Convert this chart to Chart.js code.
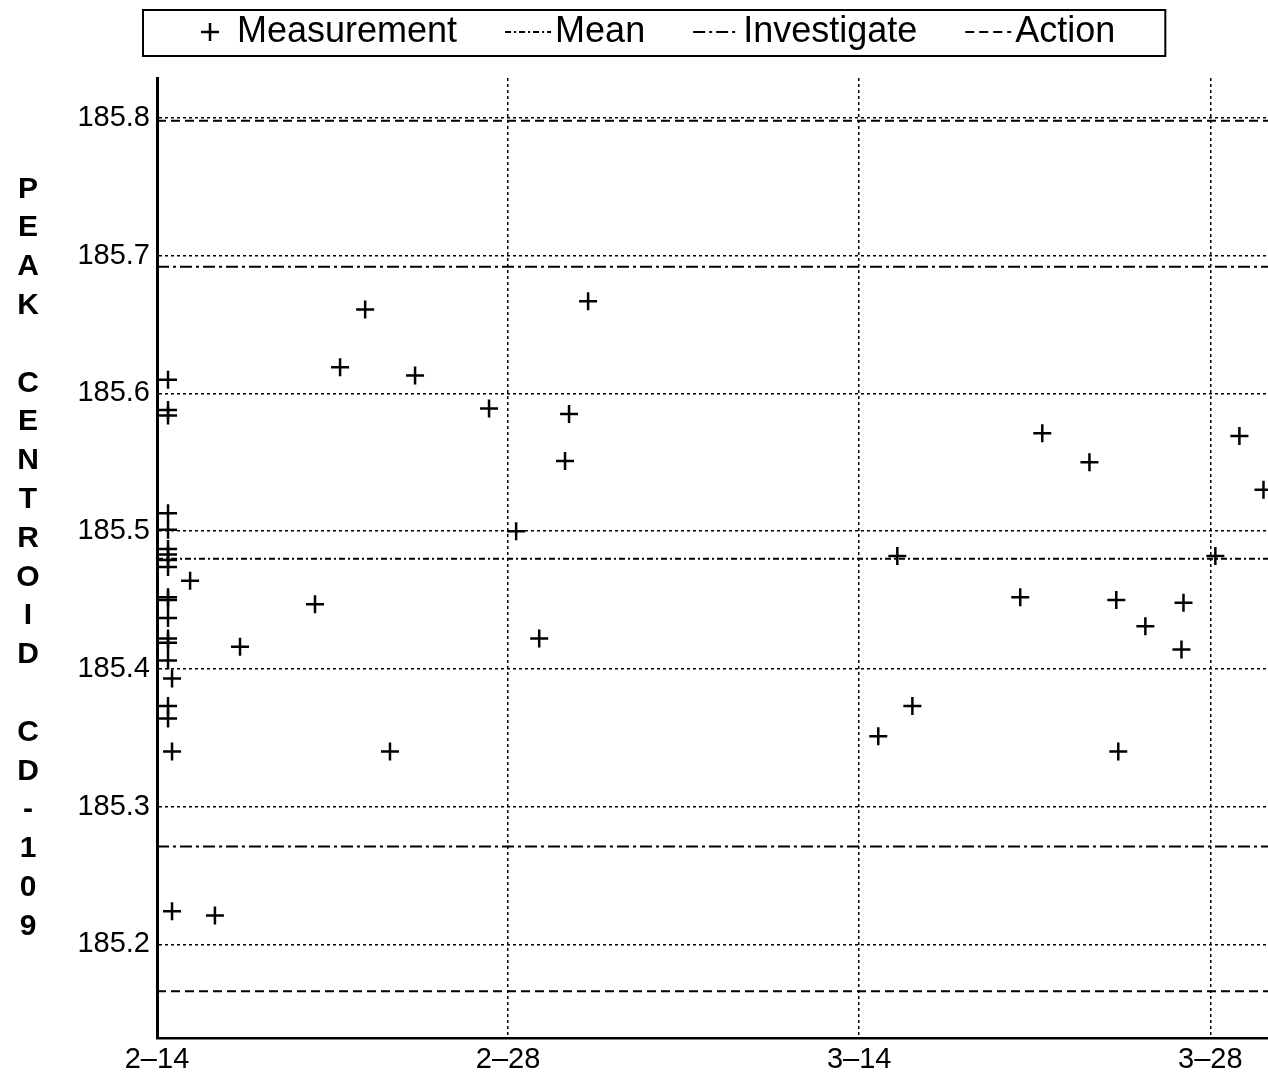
<!DOCTYPE html>
<html>
<head>
<meta charset="utf-8">
<script src="https://cdn.jsdelivr.net/npm/chart.js@4.4.0/dist/chart.umd.min.js"></script>
<style>
    html, body { margin: 0; padding: 0; background: #fff; }
    #wrap { width: 1268px; height: 1076px; }
</style>
</head>
<body>
<div id="wrap"><canvas id="grafico"></canvas></div>
<script>
// days counted from 2-14 (day 0)
const days = [
    0.44, 0.44, 0.44, 0.44, 0.44, 0.44, 0.44, 0.44, 0.44, 1.32,
    0.44, 0.44, 0.44, 0.44, 0.44, 0.44, 0.60, 0.44, 0.44, 0.60,
    0.60, 2.31, 3.31, 6.30, 7.30, 8.30, 9.29, 10.29, 13.24, 14.32,
    15.24, 16.27, 16.43, 17.19, 28.76, 29.52, 30.12, 34.42, 35.30, 37.18,
    38.25, 38.33, 39.41, 40.93, 40.85, 42.20, 43.16, 44.12
];
const peakCentroid = [
    185.610, 185.588, 185.584, 185.513, 185.501, 185.487, 185.483, 185.479, 185.474, 185.464,
    185.452, 185.450, 185.437, 185.422, 185.419, 185.406, 185.393, 185.373, 185.364, 185.340,
    185.224, 185.221, 185.416, 185.447, 185.619, 185.661, 185.340, 185.613, 185.589, 185.500,
    185.422, 185.551, 185.585, 185.667, 185.351, 185.482, 185.373, 185.452, 185.571, 185.550,
    185.450, 185.340, 185.431, 185.448, 185.414, 185.482, 185.569, 185.530
];

const tickDays = [0, 14, 28, 42];
const tickLabels = ['2–14', '2–28', '3–14', '3–28'];

const meanLevel = 185.480;
const investigateLevels = [185.692, 185.271];
const actionLevels = [185.798, 185.166];

const yTitle = 'PEAK CENTROID CD-109';
const xMin = 0, xMax = 44.3;
const yMin = 185.132, yMax = 185.829;

const FONT = '"Liberation Sans", Arial, Helvetica, sans-serif';

function levelLine(label, level, dash) {
    return {
        label: label,
        data: [{ x: xMin, y: level }, { x: xMax, y: level }],
        showLine: true,
        pointRadius: 0,
        borderColor: '#000',
        borderWidth: 2,
        borderDash: dash
    };
}

// legend box and the stacked y title are drawn by hand
const extras = {
    id: 'extras',
    afterDraw(chart) {
        const ctx = chart.ctx;
        const area = chart.chartArea;
        ctx.save();
        ctx.fillStyle = '#000';
        ctx.strokeStyle = '#000';

        // y title, one letter per line
        ctx.font = 'bold 30px ' + FONT;
        ctx.textAlign = 'center';
        ctx.textBaseline = 'middle';
        const chars = yTitle.split('');
        const pitch = 38.8;
        const mid = (area.top + area.bottom) / 2;
        chars.forEach((c, i) => {
            ctx.fillText(c, 28, mid + (i - (chars.length - 1) / 2) * pitch);
        });

        // legend
        ctx.font = '36px ' + FONT;
        ctx.textAlign = 'left';
        const seen = new Set();
        const items = chart.data.datasets.filter(d => {
            if (seen.has(d.label)) return false;
            seen.add(d.label);
            return true;
        });
        const sampleW = 46, gapText = 4, gapItem = 48;
        const cy = 32;
        let x = 187;
        const widths = items.map(d => sampleW + gapText + ctx.measureText(d.label).width);
        const total = widths.reduce((a, b) => a + b, 0) + gapItem * (items.length - 1);
        ctx.lineWidth = 2;
        ctx.strokeRect(x - 44, 10, total + 44 + 50, 46);

        items.forEach((d, i) => {
            ctx.save();
            ctx.lineWidth = d.borderWidth;
            ctx.beginPath();
            if (d.showLine) {
                ctx.setLineDash(d.borderDash || []);
                ctx.moveTo(x, cy);
                ctx.lineTo(x + sampleW, cy);
            } else {
                const cx = x + sampleW / 2, r = d.pointRadius;
                ctx.moveTo(cx - r, cy); ctx.lineTo(cx + r, cy);
                ctx.moveTo(cx, cy - r); ctx.lineTo(cx, cy + r);
            }
            ctx.stroke();
            ctx.restore();
            ctx.fillText(d.label, x + sampleW + gapText, cy);
            x += widths[i] + gapItem;
        });
        ctx.restore();
    }
};

const points = days.map((d, i) => ({ x: d, y: peakCentroid[i] }));

new Chart(document.getElementById('grafico'), {
    type: 'scatter',
    data: {
        datasets: [
            {
                label: 'Measurement',
                data: points,
                pointStyle: 'cross',
                pointRadius: 9,
                borderWidth: 2.5,
                borderColor: '#000',
                backgroundColor: '#000'
            },
            levelLine('Mean', meanLevel, [6, 3, 2, 3]),
            levelLine('Investigate', investigateLevels[0], [12, 4, 3, 4]),
            levelLine('Investigate', investigateLevels[1], [12, 4, 3, 4]),
            levelLine('Action', actionLevels[0], [9, 5]),
            levelLine('Action', actionLevels[1], [9, 5])
        ]
    },
    options: {
        responsive: true,
        maintainAspectRatio: false,
        animation: false,
        layout: { autoPadding: false, padding: { top: 78, left: 0, right: 0, bottom: 0 } },
        plugins: {
            legend: { display: false },
            tooltip: { enabled: false }
        },
        scales: {
            x: {
                type: 'linear',
                min: xMin,
                max: xMax,
                afterFit: s => { s.height = 38; },
                ticks: {
                    stepSize: 14,
                    includeBounds: false,
                    color: '#000',
                    padding: 5,
                    font: { family: FONT, size: 29 },
                    maxRotation: 0,
                    callback: v => {
                        const i = tickDays.indexOf(v);
                        return i >= 0 ? tickLabels[i] : '';
                    }
                },
                grid: { color: '#000', lineWidth: 1.5, drawTicks: false },
                border: { display: true, color: '#000', width: 2.5, dash: [3, 3] }
            },
            y: {
                min: yMin,
                max: yMax,
                afterFit: s => { s.width = 157; },
                ticks: {
                    stepSize: 0.1,
                    includeBounds: false,
                    color: '#000',
                    padding: 7,
                    font: { family: FONT, size: 29 },
                    callback: v => v.toFixed(1)
                },
                grid: { color: '#000', lineWidth: 1.5, drawTicks: false },
                border: { display: true, color: '#000', width: 3, dash: [3, 3] }
            }
        }
    },
    plugins: [extras]
});
</script>
</body>
</html>
